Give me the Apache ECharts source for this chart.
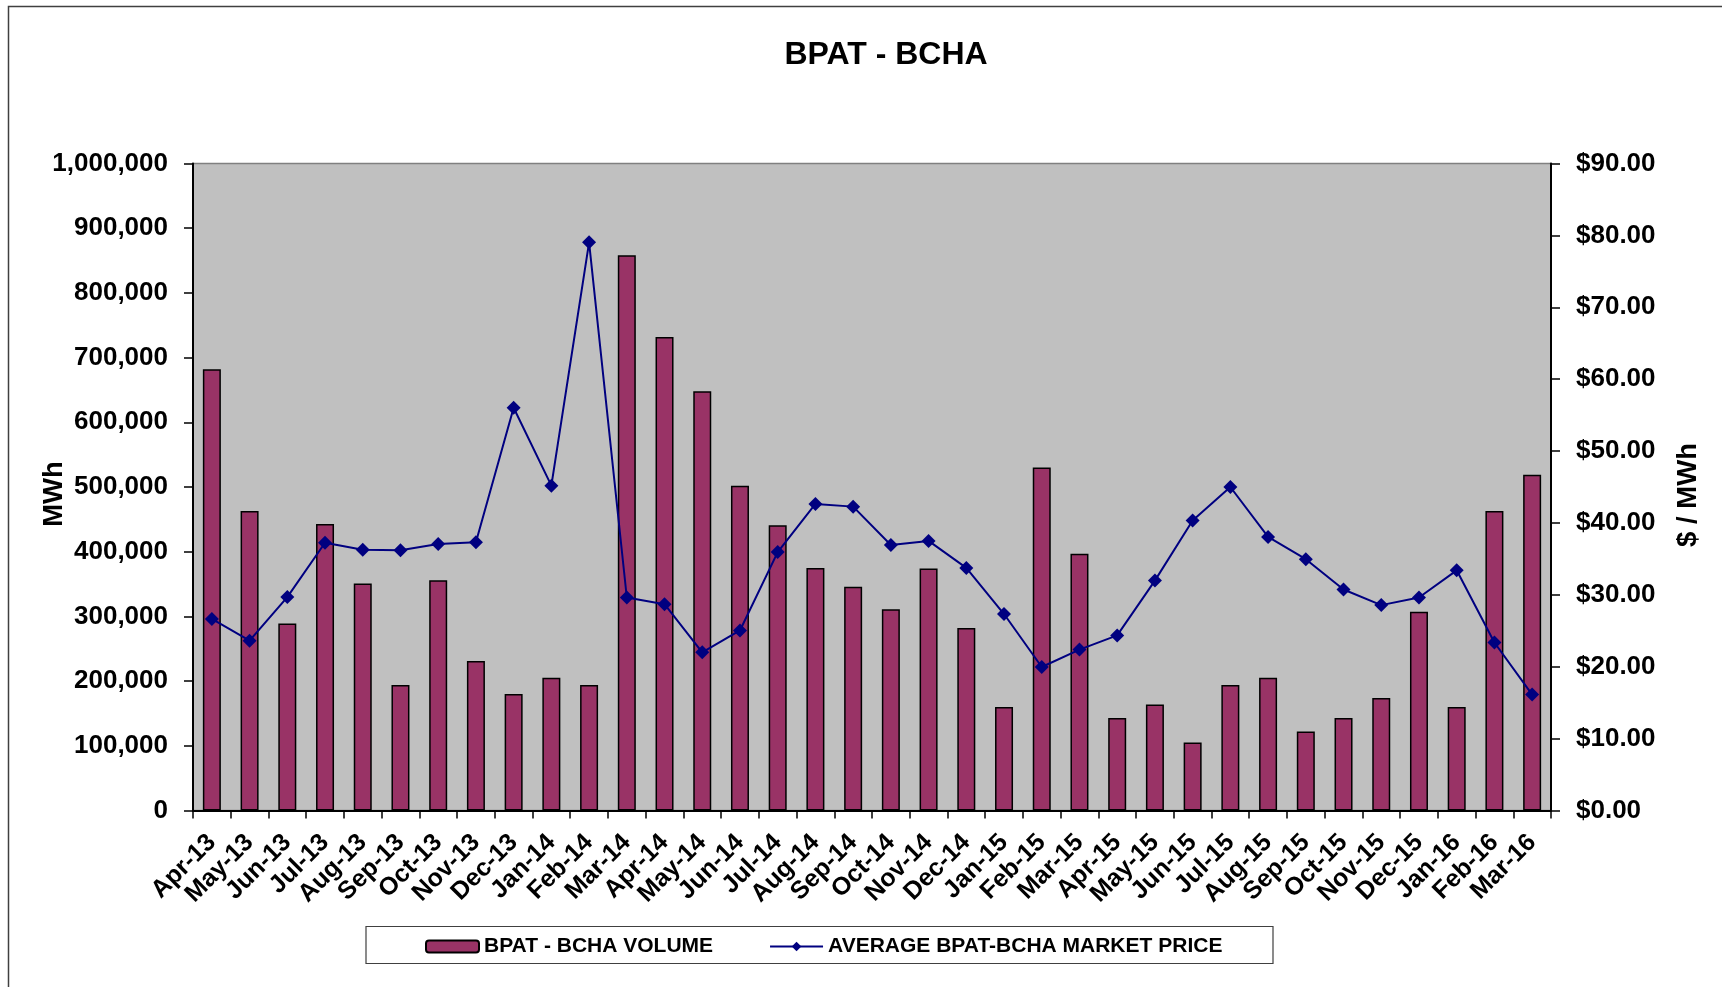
<!DOCTYPE html>
<html>
<head>
<meta charset="utf-8">
<script src="https://cdn.jsdelivr.net/npm/echarts@6/dist/echarts.min.js"></script>
<style>
html,body{margin:0;padding:0;background:#fff;}
#chart{width:1722px;height:987px;}
</style>
</head>
<body>
<div id="chart"></div>
<script>
var months = ['Apr-13','May-13','Jun-13','Jul-13','Aug-13','Sep-13','Oct-13','Nov-13','Dec-13','Jan-14','Feb-14','Mar-14',
  'Apr-14','May-14','Jun-14','Jul-14','Aug-14','Sep-14','Oct-14','Nov-14','Dec-14','Jan-15','Feb-15','Mar-15',
  'Apr-15','May-15','Jun-15','Jul-15','Aug-15','Sep-15','Oct-15','Nov-15','Dec-15','Jan-16','Feb-16','Mar-16'];
var volume = [682000,463000,289000,443000,351000,194000,356000,231000,180000,205000,194000,858000,
  732000,648000,502000,441000,375000,346000,311000,374000,282000,160000,530000,397000,
  143000,164000,105000,194000,205000,122000,143000,174000,307000,160000,463000,519000];
var price = [26.65,23.62,29.69,37.25,36.26,36.20,37.07,37.31,56.03,45.19,79.03,29.63,
  28.70,22.00,25.04,35.95,42.64,42.27,36.94,37.50,33.75,27.33,19.96,22.38,
  24.36,31.98,40.35,45.00,38.06,34.96,30.74,28.57,29.63,33.41,23.37,16.12];
var volumeName = 'BPAT - BCHA VOLUME';
var priceName = 'AVERAGE BPAT-BCHA MARKET PRICE';

var FONT = '"Liberation Sans", Arial, sans-serif';
var chart = echarts.init(document.getElementById('chart'), null, {renderer:'canvas'});
var option = {
  backgroundColor: '#ffffff',
  animation: false,
  textStyle: {fontFamily: FONT},
  title: {
    text: 'BPAT - BCHA',
    left: 881,
    textAlign: 'center',
    top: 34,
    textStyle: {fontFamily: FONT, fontSize: 32, fontWeight: 'bold', color: '#000'}
  },
  graphic: [
    {type:'rect', left: 6, top: 4, shape:{x:0,y:0,width:1800,height:1100}, style:{fill:null, stroke:'#404040', lineWidth:1.5}, silent:true, z:-1},
    {type:'rect', shape:{x:366,y:926.5,width:907,height:37}, style:{fill:'#fff', stroke:'#404040', lineWidth:1.2}, silent:true, z:-1}
  ],
  legend: {
    left: 420,
    top: 931,
    itemGap: 56,
    itemWidth: 53,
    itemHeight: 12,
    textStyle: {fontFamily: FONT, fontSize: 21, fontWeight: 'bold', color: '#000'},
    data: [volumeName, priceName]
  },
  grid: {
    left: 193, right: 171, top: 163.5, bottom: 176.5,
    show: true, backgroundColor: '#C0C0C0', borderColor: '#808080', borderWidth: 1.5
  },
  xAxis: {
    type: 'category',
    data: months,
    boundaryGap: true,
    axisLine: {show:true, lineStyle:{color:'#000', width:2}},
    axisTick: {show:true, interval:0, length:8, lineStyle:{color:'#000', width:1.5}},
    axisLabel: {interval:0, rotate:45, margin:28, fontFamily: FONT, fontSize:25, fontWeight:'bold', color:'#000'},
    splitLine: {show:false}
  },
  yAxis: [
    {
      type: 'value', min: 0, max: 1000000, interval: 100000,
      name: 'MWh', nameLocation: 'middle', nameRotate: 90, nameGap: 125, nameMoveOverlap: false,
      nameTextStyle: {fontFamily: FONT, fontSize: 27.5, fontWeight: 'bold', color: '#000', padding:[0,14,0,0]},
      axisLine: {show:true, lineStyle:{color:'#000', width:2}},
      axisTick: {show:true, length:9, lineStyle:{color:'#000', width:1.5}},
      axisLabel: {margin: 25, fontFamily: FONT, fontSize: 26, fontWeight: 'bold', color: '#000',
        formatter: function(v){ return v.toString().replace(/\B(?=(\d{3})+(?!\d))/g, ','); }},
      splitLine: {show:false}
    },
    {
      type: 'value', min: 0, max: 90, interval: 10, position: 'right',
      name: '$ / MWh', nameLocation: 'middle', nameRotate: 90, nameGap: 123, nameMoveOverlap: false,
      nameTextStyle: {fontFamily: FONT, fontSize: 27.5, fontWeight: 'bold', color: '#000', padding:[0,16,0,0]},
      axisLine: {show:true, lineStyle:{color:'#000', width:2}},
      axisTick: {show:true, length:9, lineStyle:{color:'#000', width:1.5}},
      axisLabel: {margin: 25, fontFamily: FONT, fontSize: 26, fontWeight: 'bold', color: '#000',
        formatter: function(v){ return '$' + v.toFixed(2); }},
      splitLine: {show:false}
    }
  ],
  series: [
    {
      name: volumeName,
      type: 'bar',
      yAxisIndex: 0,
      data: volume,
      barWidth: 18,
      itemStyle: {color:'#993366', borderColor:'#000', borderWidth:1.5}
    },
    {
      name: priceName,
      type: 'line',
      yAxisIndex: 1,
      data: price,
      symbol: 'diamond',
      symbolSize: 14,
      lineStyle: {color:'#000080', width:2},
      itemStyle: {color:'#000080'},
      z: 5
    }
  ]
};
chart.setOption(option);
</script>
</body>
</html>
